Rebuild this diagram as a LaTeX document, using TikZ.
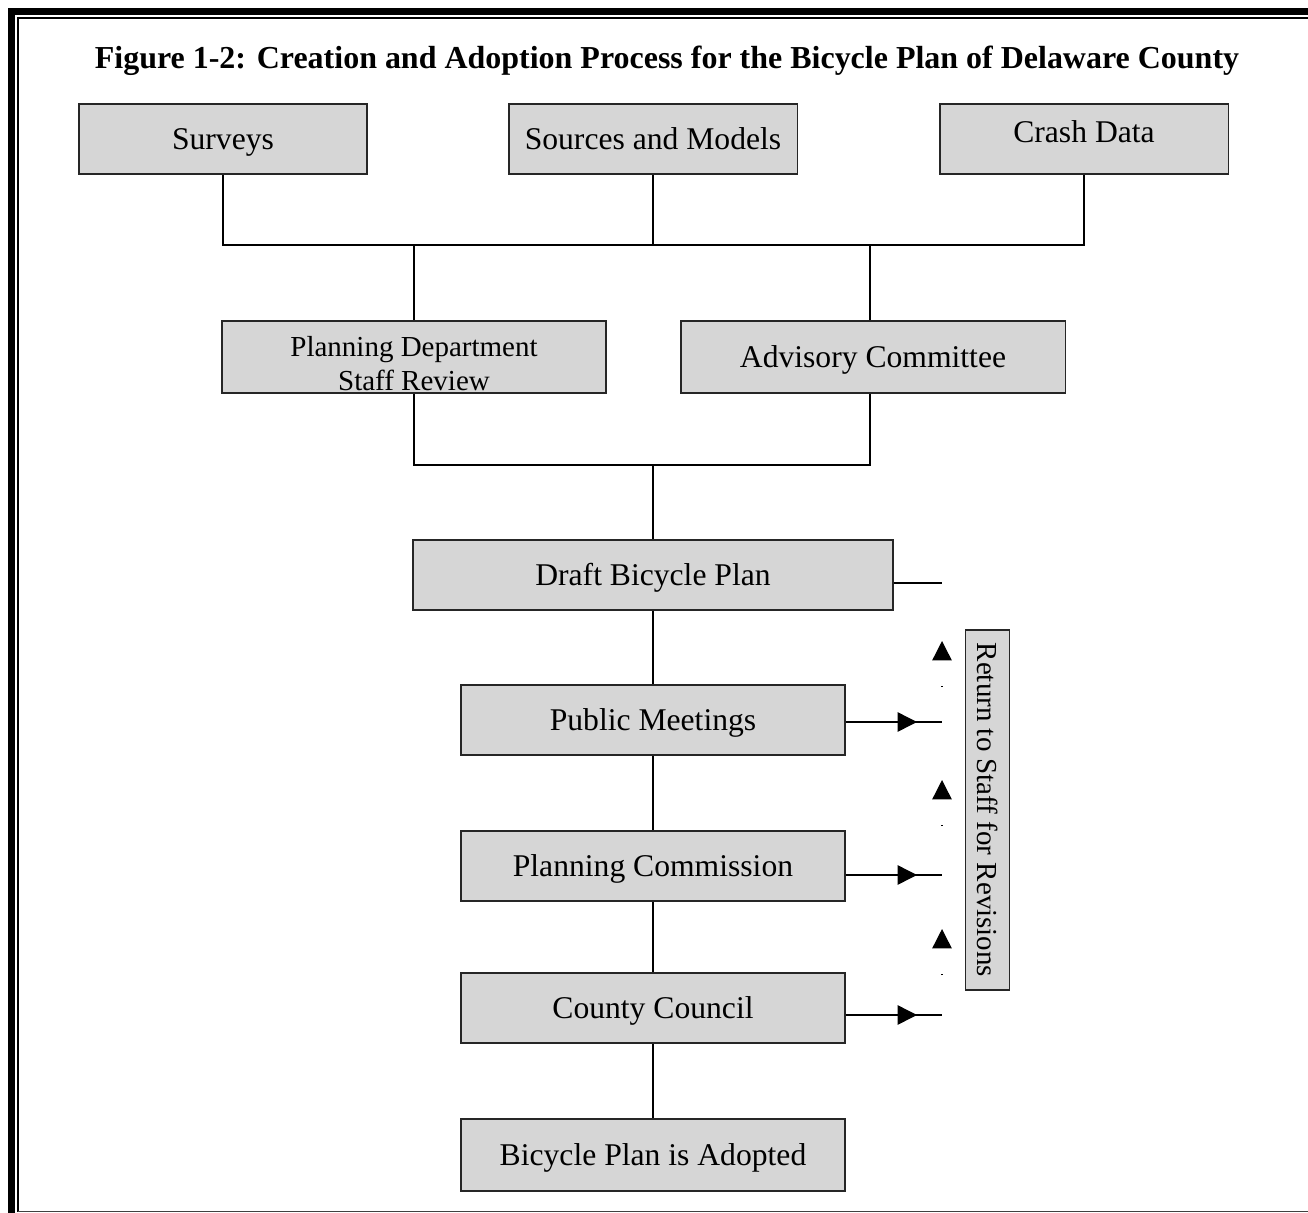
\documentclass[tikz,border=0pt]{standalone}
\usepackage{fontspec}
\setmainfont{Liberation Serif}
\usetikzlibrary{arrows.meta, positioning, calc}
\tikzset{
    procbox/.style={draw=black!85, line width=1.1pt, fill=black!16, minimum height=1.4cm, inner sep=2pt, text height=13.8pt, text depth=2pt, font=\fontsize{18}{21}\selectfont},
    link/.style={line width=0.8pt},
    flowarrow/.style={link, -{Triangle[length=11pt, width=11pt]}},
    backarrow/.style={line width=0.8pt, dash pattern=on 0.7pt off 100pt, -{Triangle[length=11pt, width=11pt]}},
    frame_line/.style={line width=4.25pt}
}

\begin{document}
\begin{tikzpicture}[x=0.02cm, y=-0.02cm]
    \useasboundingbox (0,0) rectangle (1308,1213);
    % Frame
    \draw[frame_line] (1308,11.25) -- (11.25,11.25) -- (11.25,1213);
    \draw[line width=0.6pt] (1308,18) -- (18,18) -- (18,1211.5);
    \draw[line width=0.9pt, black!75] (18,1211.5) -- (1308,1211.5);
    % Title
    \node[font=\fontsize{18.2}{21}\bfseries\selectfont] (title) at (667,61) {Figure 1-2: Creation and Adoption Process for the Bicycle Plan of Delaware County};
    % Inputs
    \node[procbox, minimum width=5.76cm] (surveys) at (223,139) {Surveys};
    \node[procbox, minimum width=5.78cm] (sources) at (653,139) {Sources and Models};
    \node[procbox, minimum width=5.78cm] (crash) at (1084,139) {\raisebox{4pt}[\height][\depth]{Crash Data}};
    % Reviews
    \node[procbox, minimum width=7.68cm, minimum height=1.44cm, inner ysep=0pt, text height=, text depth=, font=\fontsize{16.5}{19.5}\selectfont] (staffrev) at (414,357) {\raisebox{-5.5pt}[\height][\depth]{\begin{tabular}{@{}c@{}}Planning Department\\Staff Review\end{tabular}}};
    \node[procbox, minimum width=7.7cm, minimum height=1.44cm] (advisory) at (873,357) {Advisory Committee};
    % Adoption steps
    \node[procbox, minimum width=9.6cm] (draft) at (653,575) {Draft Bicycle Plan};
    \node[procbox, minimum width=7.68cm] (meetings) at (653,720) {Public Meetings};
    \node[procbox, minimum width=7.68cm] (commission) at (653,866) {Planning Commission};
    \node[procbox, minimum width=7.68cm] (council) at (653,1008) {County Council};
    \node[procbox, minimum width=7.68cm, minimum height=1.44cm] (adopted) at (653,1155) {Bicycle Plan is Adopted};
    % Revisions
    \node[procbox, minimum width=7.2cm, minimum height=0.88cm, rotate=-90, font=\fontsize{16.5}{19}\selectfont] (revisions) at (987.5,810) {Return to Staff for Revisions};
    % Joins
    \coordinate (topbus) at (653,245);
    \coordinate (midbus) at (653,465);
    \draw[link] (surveys.south) -- (surveys.south |- topbus) -- (crash.south |- topbus) -- (crash.south);
    \draw[link] (sources.south) -- (topbus);
    \draw[link] (staffrev.north |- topbus) -- (staffrev.north);
    \draw[link] (advisory.north -| 870,0) -- (870,245);
    \draw[link] (staffrev.south) -- (staffrev.south |- midbus) -- (870,465) -- (advisory.south -| 870,0);
    \draw[link] (midbus) -- (draft.north);
    \draw[link] (draft.south) -- (meetings.north);
    \draw[link] (meetings.south) -- (commission.north);
    \draw[link] (commission.south) -- (council.north);
    \draw[link] (council.south) -- (adopted.north);
    % Sent back
    \coordinate (rd) at (942,583);
    \coordinate (rm) at (942,722);
    \coordinate (rc) at (942,875);
    \coordinate (rk) at (942,1015);
    \draw[link] (draft.east |- rd) -- (rd);
    \foreach \stage/\rend in {meetings/rm, commission/rc, council/rk} {
        \draw[link] (\stage.east |- \rend) -- (\rend);
        \draw[flowarrow] (\stage.east |- \rend) -- ($(\rend)+(-25,0)$);
    }
    \foreach \y in {687, 826, 975} {
        \coordinate (up\y) at (942,\y);
        \draw[backarrow] (up\y) -- ++(0,-46);
    }
\end{tikzpicture}
\end{document}
